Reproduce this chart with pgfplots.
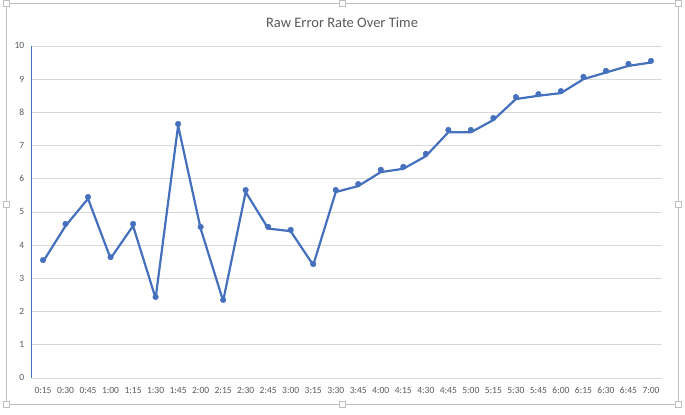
\documentclass[border=0pt]{standalone}
\usepackage{fontspec}
\setmainfont{Carlito}
\usepackage{pgfplots}
\pgfplotsset{compat=1.18}
\usepackage{pgfplotstable}

\definecolor{xlblue}{HTML}{4570BE}
\definecolor{gridgray}{HTML}{D9D9D9}
\definecolor{txtgray}{HTML}{595959}
\definecolor{framegray}{HTML}{BFBFBF}

% raw error rate, sampled every 15 min (idx 0 = 0:15)
\pgfplotstableread{
idx pts line
0  3.55 3.50
1  4.64 4.58
2  5.45 5.40
3  3.64 3.60
4  4.64 4.58
5  2.44 2.40
6  7.65 7.60
7  4.55 4.50
8  2.35 2.32
9  5.66 5.60
10 4.55 4.50
11 4.46 4.42
12 3.43 3.40
13 5.66 5.60
14 5.84 5.78
15 6.27 6.20
16 6.36 6.30
17 6.75 6.68
18 7.47 7.40
19 7.47 7.40
20 7.83 7.77
21 8.46 8.40
22 8.55 8.50
23 8.64 8.58
24 9.07 9.00
25 9.25 9.20
26 9.46 9.40
27 9.55 9.50
}\errdata

\begin{document}
\begin{tikzpicture}
% page size
\path (0,0) rectangle (685pt,414pt);
% chart frame with handles
\draw[framegray, line width=0.9pt] (6pt,10pt) rectangle (678pt,411pt);
\foreach \px/\py in {6/10,342/10,678/10,6/210,678/210,6/411,342/411,678/411}
  \filldraw[draw=framegray, fill=white, line width=0.5pt] (\px pt-3pt,\py pt-3pt) rectangle ++(6pt,6pt);

\node[txtgray, font=\fontsize{14.5}{16}\selectfont] at (342pt,392pt) {Raw Error Rate Over Time};

\begin{axis}[
    at={(31.75pt,36.3pt)}, anchor=south west,
    scale only axis,
    width=630.5pt, height=332pt,
    xmin=-0.5, xmax=27.5,
    ymin=0, ymax=10,
    ytick={0,1,...,10},
    xtick={0,1,...,27},
    xticklabels={0:15,0:30,0:45,1:00,1:15,1:30,1:45,2:00,2:15,2:30,2:45,3:00,3:15,3:30,3:45,4:00,4:15,4:30,4:45,5:00,5:15,5:30,5:45,6:00,6:15,6:30,6:45,7:00},
    ymajorgrids,
    grid style={gridgray, line width=0.8pt},
    major tick length=0pt,
    axis x line*=bottom,
    axis y line*=left,
    x axis line style={gridgray, line width=0.8pt, -},
    y axis line style={xlblue, line width=1pt, -},
    ticklabel style={txtgray, font=\fontsize{9.5}{11}\selectfont},
    xticklabel style={yshift=-6pt},
    yticklabel style={xshift=-4pt},
    /pgf/number format/assume math mode=true,
    clip=false,
]
\addplot[xlblue, line width=2.2pt, line join=round] table[x=idx, y=line] {\errdata};
\addplot[only marks, mark=*, mark size=2.8pt, xlblue] table[x=idx, y=pts] {\errdata};
\end{axis}
\end{tikzpicture}
\end{document}
